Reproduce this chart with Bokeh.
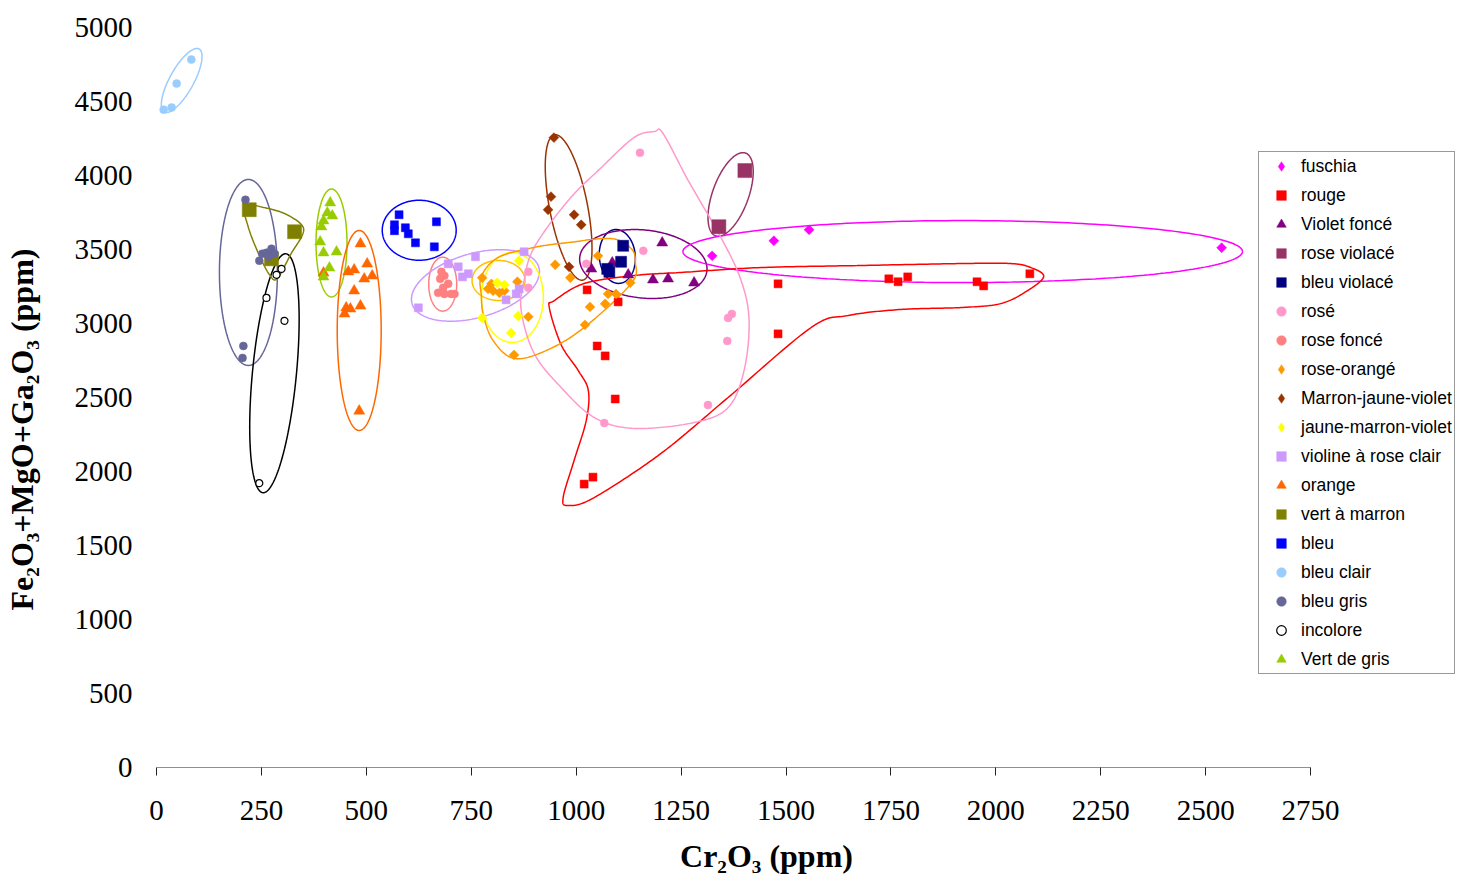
import numpy as np
from bokeh.plotting import figure
from bokeh.models import Legend, LegendItem, FixedTicker, Range1d
from bokeh.embed import file_html
from bokeh.resources import INLINE

# ---------------- data (ppm) ----------------
fuschia_x = [1324, 1471, 1555, 2538]
fuschia_y = [3457, 3559, 3633, 3512]
rouge_x = [1026, 1100, 1050, 1069, 1093, 1040, 1019, 1481, 1481, 1745, 1767, 1790, 1955, 1971, 2081]
rouge_y = [3227, 3146, 2848, 2781, 2490, 1962, 1915, 3268, 2930, 3302, 3282, 3315, 3282, 3254, 3336]
violet_fonce_x = [1036, 1086, 1124, 1205, 1183, 1219, 1281]
violet_fonce_y = [3369, 3410, 3329, 3545, 3295, 3302, 3275]
rose_violace_x = [1402, 1340]
rose_violace_y = [4033, 3654]
bleu_violace_x = [1112, 1107, 1079, 1074]
bleu_violace_y = [3525, 3417, 3349, 3369]
rose_x = [1152, 1160, 1024, 886, 886, 1371, 1362, 1360, 1314, 1067]
rose_y = [4154, 3491, 3403, 3349, 3241, 3065, 3038, 2882, 2449, 2327]
rose_fonce_x = [679, 686, 676, 695, 671, 686, 702, 710, 683]
rose_fonce_y = [3349, 3322, 3302, 3268, 3207, 3200, 3200, 3200, 3241]
rose_orange_x = [776, 790, 802, 817, 829, 860, 886, 852, 950, 986, 1052, 1129, 1076, 1095, 1033, 1069, 1021, 798]
rose_orange_y = [3309, 3234, 3221, 3207, 3221, 3282, 3045, 2788, 3397, 3309, 3457, 3275, 3200, 3200, 3112, 3133, 2991, 3268]
marron_x = [947, 940, 933, 995, 1012, 983]
marron_y = [4256, 3857, 3769, 3735, 3667, 3383]
jaune_x = [864, 812, 829, 776, 862, 845]
jaune_y = [3424, 3275, 3261, 3038, 3051, 2936]
violine_x = [695, 719, 743, 729, 760, 876, 624, 864, 857, 833]
violine_y = [3403, 3383, 3336, 3315, 3451, 3485, 3106, 3234, 3200, 3160]
orange_x = [486, 502, 471, 457, 514, 495, 471, 486, 452, 462, 448, 483, 398]
orange_y = [3539, 3403, 3363, 3350, 3322, 3302, 3221, 3119, 3106, 3099, 3065, 2409, 3342]
vert_marron_x = [221, 329, 274]
vert_marron_y = [3769, 3620, 3437]
bleu_x = [578, 567, 567, 593, 600, 617, 667, 662]
bleu_y = [3735, 3667, 3627, 3647, 3606, 3545, 3687, 3518]
bleu_clair_x = [17, 36, 48, 83]
bleu_clair_y = [4445, 4459, 4621, 4783]
bleu_gris_x = [212, 207, 205, 245, 252, 262, 274, 281, 267]
bleu_gris_y = [3836, 2848, 2767, 3424, 3471, 3478, 3505, 3471, 3451]
incolore_x = [298, 286, 262, 305, 245]
incolore_y = [3369, 3329, 3173, 3018, 1921]
vert_gris_x = [414, 407, 419, 398, 393, 390, 398, 429, 412, 398]
vert_gris_y = [3816, 3748, 3728, 3694, 3654, 3552, 3478, 3484, 3376, 3315]

x_ticks = list(range(0, 2751, 250))
y_ticks = list(range(0, 5001, 500))
x_title = "Cr₂O₃ (ppm)"
y_title = "Fe₂O₃+MgO+Ga₂O₃ (ppm)"

# hand-drawn group outlines: free-form (data coords of control points)
rouge_outline_x = [936, 964, 1005, 1029, 1024, 995, 969, 981, 1043, 1202, 1362, 1560, 1648, 1774, 1917, 2012, 2076, 2114, 2083, 2036, 1917, 1679, 1441, 1250, 1138, 1019, 948]
rouge_outline_y = [3108, 2858, 2682, 2547, 2345, 2074, 1824, 1770, 1824, 2122, 2500, 2973, 3054, 3095, 3108, 3135, 3223, 3318, 3378, 3405, 3405, 3392, 3378, 3345, 3324, 3270, 3155]
rose_outline_x = [1186, 1138, 1060, 981, 900, 876, 869, 900, 964, 1043, 1138, 1281, 1362, 1400, 1412, 1393, 1345, 1267, 1207]
rose_outline_y = [4297, 4257, 4054, 3831, 3514, 3291, 3088, 2797, 2568, 2365, 2291, 2331, 2432, 2682, 3020, 3291, 3581, 3966, 4284]
rose_orange_outline_x = [774, 814, 900, 981, 1083, 1131, 1141, 1131, 1019, 929, 852, 802, 779, 774]
rose_orange_outline_y = [3318, 3446, 3514, 3547, 3574, 3507, 3412, 3270, 2973, 2818, 2764, 2885, 3054, 3189]
vert_marron_outline_x = [210, 255, 305, 345, 348, 321, 288, 269, 243, 219]
vert_marron_outline_y = [3797, 3784, 3743, 3669, 3601, 3473, 3304, 3331, 3473, 3649]

# ---------------- geometry ----------------
W, H = 1456, 877
BL, BT = 155, 27
AXIS_W, FH = 1155, 740           # pixel length of the 0..2750 axis, frame height
BB = H - BT - FH
FW = W - BL                       # frame runs to the right edge (legend lives inside it)
KX = AXIS_W / x_ticks[-1]
KY = FH / y_ticks[-1]
X_END = FW / KX

p = figure(width=W, height=H, output_backend="svg", toolbar_location=None,
           x_range=Range1d(0, X_END), y_range=Range1d(0, y_ticks[-1]),
           min_border_left=BL, min_border_right=0, min_border_top=BT, min_border_bottom=BB)
p.outline_line_color = None
p.xgrid.visible = False
p.ygrid.visible = False
p.background_fill_color = "white"

p.xaxis.ticker = FixedTicker(ticks=x_ticks)
p.yaxis.ticker = FixedTicker(ticks=y_ticks)
p.xaxis.minor_tick_line_color = None
p.yaxis.minor_tick_line_color = None
p.xaxis.axis_line_color = None
p.xaxis.major_tick_line_color = "#222222"
p.xaxis.major_tick_out = 8
p.xaxis.major_tick_in = 0
p.xaxis.major_label_standoff = 25
p.yaxis.axis_line_color = None
p.yaxis.major_tick_line_color = None
p.yaxis.major_label_standoff = 18
for ax in (p.xaxis, p.yaxis):
    ax.major_label_text_font = "Liberation Serif"
    ax.major_label_text_font_size = "29px"
    ax.major_label_text_color = "black"
    ax.axis_label_text_font = "Liberation Serif"
    ax.axis_label_text_font_style = "bold"
    ax.axis_label_text_font_size = "32px"
    ax.axis_label_text_color = "black"

NB = "\u00a0"
# trailing no-break spaces shift the centred titles to where the reference has them
p.xaxis.axis_label = x_title + NB * 10
p.xaxis.axis_label_standoff = 15
p.yaxis.axis_label = y_title + NB * 8
p.yaxis.axis_label_standoff = 32

# x axis baseline only over the tick span
p.segment(x0=[x_ticks[0]], y0=[y_ticks[0]], x1=[x_ticks[-1]], y1=[y_ticks[0]],
          line_color="#222222", line_width=1)


def ellipse(cx, cy, a_px, b_px, ang_deg, n=240):
    t = np.linspace(0, 2 * np.pi, n)
    u, v = a_px * np.cos(t), b_px * np.sin(t)
    th = np.radians(ang_deg)
    du = u * np.cos(th) - v * np.sin(th)
    dv = u * np.sin(th) + v * np.cos(th)
    return cx + du / KX, cy + dv / KY


def closed_spline(xs, ys, n=24):
    P = np.column_stack([np.array(xs) * KX, np.array(ys) * KY])
    m = len(P)
    out = []
    for i in range(m):
        p0, p1, p2, p3 = P[(i - 1) % m], P[i], P[(i + 1) % m], P[(i + 2) % m]
        for t in np.linspace(0, 1, n, endpoint=False):
            out.append(0.5 * (2 * p1 + (-p0 + p2) * t + (2 * p0 - 5 * p1 + 4 * p2 - p3) * t ** 2
                              + (-p0 + 3 * p1 - 3 * p2 + p3) * t ** 3))
    out.append(out[0])
    out = np.array(out)
    return out[:, 0] / KX, out[:, 1] / KY


LW = 1.5
# ellipses: centre (data), semi-axes (px), angle (deg)
ellipses = [
    ((60, 4642, 36, 12, 61), "#99CCFF"),
    ((219, 3345, 93, 29, 90), "#666699"),
    ((281, 2664, 120, 22, 84.5), "#000000"),
    ((417, 3544, 54, 15.5, 90), "#99CC00"),
    ((483, 2953, 100, 22, 90), "#FF6600"),
    ((626, 3630, 37, 30, 0), "#0000FF"),
    ((682, 3266, 27, 14, 90), "#FF8080"),
    ((760, 3257, 66, 32, 16), "#CC99FF"),
    ((815, 3291, 26.5, 20, 0), "#FFC000"),
    ((848, 3176, 45, 31, 90), "#FFFF00"),
    ((982, 3784, 74, 19, 101), "#993300"),
    ((1098, 3453, 27, 18, 95), "#000080"),
    ((1160, 3402, 64, 34, -6), "#800080"),
    ((1368, 3872, 44, 18, 70), "#993366"),
    ((1921, 3486, 280, 31, 0), "#FF00FF"),
]
for (cx, cy, a, b, ang), col in ellipses:
    ex, ey = ellipse(cx, cy, a, b, ang)
    p.line(ex, ey, line_color=col, line_width=LW)

for xs, ys, col in [(rouge_outline_x, rouge_outline_y, "#FF0000"),
                    (rose_outline_x, rose_outline_y, "#FF99CC"),
                    (rose_orange_outline_x, rose_orange_outline_y, "#FF9900"),
                    (vert_marron_outline_x, vert_marron_outline_y, "#808000")]:
    sx, sy = closed_spline(xs, ys)
    p.line(sx, sy, line_color=col, line_width=LW)

D = np.pi / 4
series = [
    ("fuschia", fuschia_x, fuschia_y, "square", 7, D, "#FF00FF", "#FF00FF"),
    ("rouge", rouge_x, rouge_y, "square", 8, 0, "#FF0000", "#FF0000"),
    ("Violet foncé", violet_fonce_x, violet_fonce_y, "triangle", 11, 0, "#800080", "#800080"),
    ("rose violacé", rose_violace_x, rose_violace_y, "square", 14, 0, "#993366", "#993366"),
    ("bleu violacé", bleu_violace_x, bleu_violace_y, "square", 11, 0, "#000080", "#000080"),
    ("rosé", rose_x, rose_y, "circle", 8, 0, "#FF99CC", "#FF99CC"),
    ("rose foncé", rose_fonce_x, rose_fonce_y, "circle", 8, 0, "#FF8080", "#FF8080"),
    ("rose-orangé", rose_orange_x, rose_orange_y, "square", 7, D, "#FF9900", "#FF9900"),
    ("Marron-jaune-violet", marron_x, marron_y, "square", 7, D, "#993300", "#993300"),
    ("jaune-marron-violet", jaune_x, jaune_y, "square", 7, D, "#FFFF00", "#FFFF00"),
    ("violine à rose clair", violine_x, violine_y, "square", 8, 0, "#CC99FF", "#CC99FF"),
    ("orange", orange_x, orange_y, "triangle", 11, 0, "#FF6600", "#FF6600"),
    ("vert à marron", vert_marron_x, vert_marron_y, "square", 14, 0, "#808000", "#808000"),
    ("bleu", bleu_x, bleu_y, "square", 8, 0, "#0000FF", "#0000FF"),
    ("bleu clair", bleu_clair_x, bleu_clair_y, "circle", 8, 0, "#99CCFF", "#99CCFF"),
    ("bleu gris", bleu_gris_x, bleu_gris_y, "circle", 8, 0, "#666699", "#666699"),
    ("incolore", incolore_x, incolore_y, "circle", 7, 0, "#FFFFFF", "#000000"),
    ("Vert de gris", vert_gris_x, vert_gris_y, "triangle", 11, 0, "#99CC00", "#99CC00"),
]
NAN = float("nan")
items = []
for name, xs, ys, mk, sz, ang, fill, line in series:
    r = p.scatter(xs, ys, marker=mk, size=sz, angle=ang, fill_color=fill, line_color=line,
                  line_width=1.2 if name == "incolore" else 0.5)
    icon = r
    if ang:  # legend-only icon (undrawable NaN point) so diamonds show as diamonds
        icon = p.scatter([NAN], [NAN], marker="diamond", size=sz, fill_color=fill,
                         line_color=line, line_width=0.5)
    items.append(LegendItem(label=name, renderers=[icon]))

legend = Legend(items=items, location=(1102, 93), orientation="vertical",
                label_text_font="Liberation Sans", label_text_font_size="17.5px",
                label_text_color="black", border_line_color="#333333", border_line_width=1,
                background_fill_color="white", background_fill_alpha=1.0,
                padding=2, spacing=5, glyph_height=24, label_height=20,
                glyph_width=40, label_standoff=0, margin=0)
p.add_layout(legend, "center")

open("out.html", "w").write(file_html(p, INLINE))
